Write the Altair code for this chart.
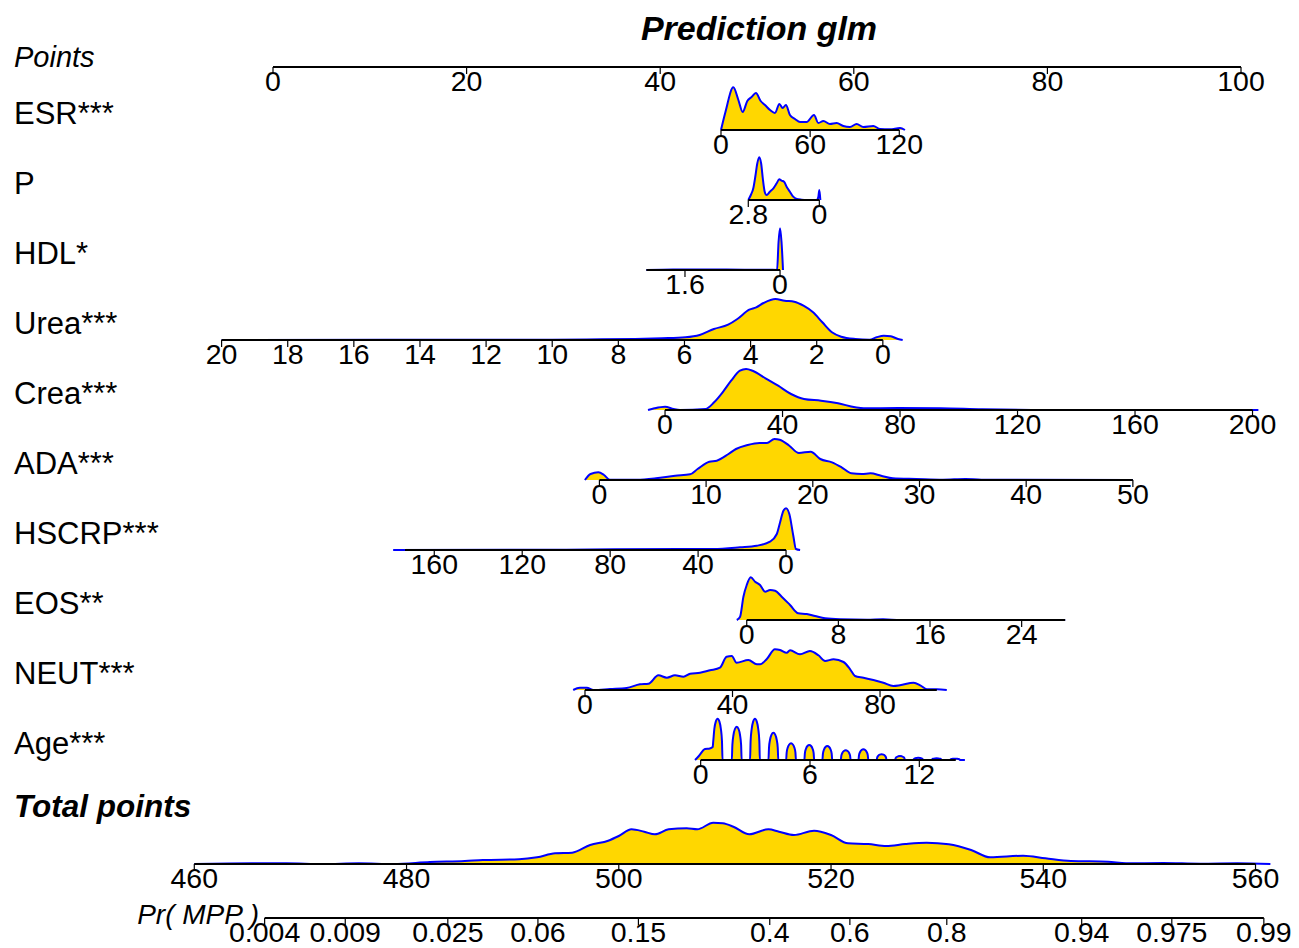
import math
import altair as alt
import pandas as pd

# ---------------- data ----------------
TITLE = "Prediction glm"
VAR_NAMES = ["ESR***", "P", "HDL*", "Urea***", "Crea***", "ADA***",
             "HSCRP***", "EOS**", "NEUT***", "Age***"]

POINT_TICKS = [0, 20, 40, 60, 80, 100]

# tick labels of each variable axis
ESR_TICKS = [0, 60, 120]
P_TICKS = [2.8, 0]
HDL_TICKS = [1.6, 0]
UREA_TICKS = [20, 18, 16, 14, 12, 10, 8, 6, 4, 2, 0]
CREA_TICKS = [0, 40, 80, 120, 160, 200]
ADA_TICKS = [0, 10, 20, 30, 40, 50]
HSCRP_TICKS = [160, 120, 80, 40, 0]
EOS_TICKS = [0, 8, 16, 24]
NEUT_TICKS = [0, 40, 80]
AGE_TICKS = [0, 6, 12]
TOTAL_TICKS = [460, 480, 500, 520, 540, 560]
PR_TICKS = ["0.004", "0.009", "0.025", "0.06", "0.15", "0.4", "0.6", "0.8", "0.94", "0.975", "0.99"]

# value -> points mapping of each axis (value a, points a, value b, points b)
ESR_MAP = (0, 46.28, 120, 64.70)
P_MAP = (2.8, 49.10, 0, 56.44)
HDL_MAP = (1.6, 42.56, 0, 52.38)
UREA_MAP = (20, -5.31, 0, 63.00)
CREA_MAP = (0, 40.50, 200, 101.19)
ADA_MAP = (0, 33.72, 50, 88.83)
HSCRP_MAP = (160, 16.66, 0, 53.00)
EOS_MAP = (0, 48.94, 24, 77.34)
NEUT_MAP = (0, 32.23, 80, 62.71)
AGE_MAP = (0, 44.18, 12, 66.77)
TOTAL_MAP = (460, -8.13, 560, 101.50)

# extent of each axis line (values)
ESR_RANGE = (0, 120)
P_RANGE = (2.8, 0)
HDL_RANGE = (2.25, 0)
UREA_RANGE = (20, 0)
CREA_RANGE = (0, 200)
ADA_RANGE = (0, 50)
HSCRP_RANGE = (173.3, 0)
EOS_RANGE = (0, 27.8)
NEUT_RANGE = (0, 95.4)
AGE_RANGE = (0, 14)
TOTAL_RANGE = (460, 560)

# logistic model: total points -> Pr(MPP)
PR_T50 = 518.0
PR_SLOPE = 0.1074

# density curves (value, relative height)
ESR_V = [0, 3, 8.3, 11.7, 14.6, 17.7, 20.6, 23.5, 26.7, 29.6, 33, 36.3, 39.3, 41.5, 43.7, 46.4, 49.8,
         53.2, 57.6, 62.6, 65.5, 68.9, 73.3, 77.8, 82.3, 86.8, 91.3, 95.8, 102.5, 107, 113.7, 120.5, 123.8]
ESR_H = [0, 18, 42.7, 30, 18, 29, 33, 37, 29, 25, 20, 17, 26, 22, 25, 15, 11,
         8, 8, 15, 7, 9, 6, 7, 4, 3, 6, 3, 4, 1, 0.7, 2, 0]

P_V = [2.8, 2.7, 2.6, 2.52, 2.45, 2.37, 2.29, 2.23, 2.15, 2.08, 1.95, 1.81, 1.68, 1.58, 1.49, 1.39, 1.29,
       1.16, 1.03, 0.89, 0.70, 0.5, 0.1, 0.04, 0, -0.04]
P_H = [0, 5, 12, 24, 36, 42.7, 36, 22, 8, 5, 8.3, 11.7, 16.7, 20.7, 19.3, 18.3, 13.3,
       8.3, 3.3, 1, 0.3, 0, 0, 3, 10, 0]

HDL_V = [2.25, 1.8, 1.2, 0.6, 0.2, 0.05, 0.025, 0.0, -0.025, -0.05]
HDL_H = [0, 0.5, 0.5, 0.3, 0.3, 0, 28, 41.7, 28, 0]

UREA_V = [20, 15, 10, 8.5, 7.5, 6.68, 5.97, 5.54, 5.11, 4.68, 4.40, 4.04, 3.83, 3.61, 3.25, 2.97,
          2.68, 2.40, 2.11, 1.83, 1.54, 1.26, 0.83, 0.40, 0.19, -0.03, -0.24, -0.46, -0.6]
UREA_H = [0, 0.3, 0.3, 0.7, 1, 1.7, 2.7, 5, 11, 15.3, 21, 30.3, 32.7, 37, 41, 39.3,
          38.3, 34.3, 27.7, 17.7, 7.7, 3.3, 1, 0.3, 2.7, 4.3, 3.7, 1, 0]

CREA_V = [-5.8, -3.6, 0, 2.9, 5.1, 13.8, 16.7, 19.6, 22.5, 25.5, 27.6, 29.8, 34.2, 38.5, 42.9,
          47.3, 53.1, 58.9, 64.7, 67.6, 79.3, 93.8, 108, 130, 202]
CREA_H = [0, 1.7, 3.3, 1, 0, 1, 7.7, 17.7, 29.3, 39.3, 41, 39.3, 31.7, 24.3, 16,
          11, 9.3, 6.7, 2.7, 1.7, 2, 1.7, 0.7, 0, 0]

ADA_V = [-1.36, -0.83, -0.1, 0.43, 0.97, 3.5, 5.3, 7.1, 8.5, 9.2, 10.3, 11.0, 12.1, 12.8, 13.9,
         15.0, 15.7, 16.4, 16.9, 17.8, 18.7, 19.8, 20.7, 21.8, 22.7, 23.6, 24.6, 25.4, 26.4, 27.5,
         29.7, 32.2, 34.3, 35.8, 50]
ADA_H = [0, 6, 7.7, 5, 0.3, 0.3, 1.7, 4.3, 5.7, 11, 18.3, 19.3, 26, 31, 35,
         37, 37, 41, 40.3, 34.3, 27, 28.3, 21, 17.7, 12.7, 6.7, 6, 6.7, 4.3, 1.7,
         1, 0.3, 1, 0.3, 0]

HSCRP_V = [178.7, 100, 48.2, 33, 20.9, 13.3, 7.3, 4.2, 2.7, 1.2, 0, -1.5, -3.3, -4.5, -6.4]
HSCRP_H = [0, 0.3, 1, 1, 2.7, 4.3, 8.3, 16, 27.7, 39.3, 41.7, 36, 14.3, 1, 0]

EOS_V = [-0.87, -0.58, -0.29, 0, 0.35, 0.73, 1.16, 1.6, 2.04, 2.47, 3.05, 3.78, 4.5, 5.24, 5.96,
         6.84, 8.15, 10.5, 11.9, 13.4, 27.8]
EOS_H = [0, 3.3, 23.3, 35, 42.7, 38.3, 35, 28.3, 30, 29.3, 23.3, 15, 6.7, 6, 4,
         1.7, 0.7, 0.3, 0.7, 0, 0]

NEUT_V = [-3.2, -1.4, 0.5, 2.3, 6.8, 11.3, 14.9, 17.2, 19.9, 22.2, 24.4, 26.7, 28.5, 31.2, 33.9,
          36.6, 38.4, 39.8, 41.1, 44.3, 46.6, 47.5, 49.3, 51.5, 52.9, 54.7, 55.6, 58.3, 61.0, 63.3,
          65.1, 67.4, 70.1, 71.9, 73.2, 75.5, 78.2, 80.9, 83.6, 85.4, 89.1, 90.9, 92.7, 95.4, 98.1]
NEUT_H = [0, 2.3, 2.3, 0, 1, 2, 5.7, 6.3, 14.7, 12.3, 14.7, 13.3, 16.3, 17.3, 19.7,
          22.3, 33.3, 34, 27.3, 30, 25.7, 25.7, 31, 40.7, 40, 37.3, 39.7, 35.7, 39, 34.7,
          29, 30.7, 28, 20.7, 14, 12.3, 10, 7.3, 4, 4.7, 7.3, 4.7, 0.7, 0.7, 0]

AGE_V = [-0.31, -0.1, 0.24, 0.5, 0.66, 0.69, 0.75, 0.83, 0.93, 1.03, 1.11, 1.17, 1.20,
         1.71, 1.74, 1.80, 1.88, 1.98, 2.08, 2.16, 2.22, 2.25,
         2.71, 2.74, 2.80, 2.88, 2.98, 3.08, 3.16, 3.22, 3.25,
         3.72, 3.75, 3.81, 3.89, 3.99, 4.09, 4.17, 4.23, 4.26,
         4.69, 4.72, 4.78, 4.86, 4.96, 5.06, 5.14, 5.20, 5.23,
         5.69, 5.72, 5.78, 5.86, 5.96, 6.06, 6.14, 6.20, 6.23,
         6.68, 6.71, 6.77, 6.85, 6.95, 7.05, 7.13, 7.19, 7.22,
         7.69, 7.72, 7.78, 7.86, 7.96, 8.06, 8.14, 8.20, 8.23,
         8.66, 8.69, 8.75, 8.83, 8.93, 9.03, 9.11, 9.17, 9.20,
         9.66, 9.69, 9.75, 9.83, 9.93, 10.03, 10.11, 10.17, 10.20,
         10.67, 10.70, 10.76, 10.84, 10.94, 11.04, 11.12, 11.18, 11.21,
         11.67, 11.70, 11.76, 11.84, 11.94, 12.04, 12.12, 12.18, 12.21,
         12.68, 12.71, 12.77, 12.85, 12.95, 13.05, 13.13, 13.19, 13.22,
         13.69, 13.72, 13.78, 13.86, 13.96, 14.06, 14.14, 14.20, 14.23, 14.5]
AGE_H = [0, 4, 11, 11.5, 13, 18.6, 31, 38.4, 41.3, 38.4, 31, 18.6, 0,
         0, 15, 25, 31, 33.3, 31, 25, 15, 0,
         0, 18.6, 31, 38.4, 41.3, 38.4, 31, 18.6, 0,
         0, 12.3, 20.5, 25.4, 27.3, 25.4, 20.5, 12.3, 0,
         0, 7.5, 12.5, 15.5, 16.7, 15.5, 12.5, 7.5, 0,
         0, 6.8, 11.3, 14, 15, 14, 11.3, 6.8, 0,
         0, 6.3, 10.5, 13, 14, 13, 10.5, 6.3, 0,
         0, 4.4, 7.3, 9, 9.7, 9, 7.3, 4.4, 0,
         0, 4.8, 8, 10, 10.7, 10, 8, 4.8, 0,
         0, 2.6, 4.3, 5.3, 5.7, 5.3, 4.3, 2.6, 0,
         0, 1.8, 3, 3.7, 4, 3.7, 3, 1.8, 0,
         0, 1, 1.7, 2.1, 2.3, 2.1, 1.7, 1, 0,
         0, 0.8, 1.3, 1.6, 1.7, 1.6, 1.3, 0.8, 0,
         0, 0.6, 1, 1.2, 1.3, 1.2, 1, 0.6, 0, 0]

TOTAL_V = [460, 465.4, 468.7, 472.1, 475.5, 478.8, 482.2, 485.5, 487.2, 490.6, 492.3, 494.0, 495.6,
           497.3, 499.0, 500.0, 501.2, 502.4, 503.4, 504.7, 506.4, 507.4, 508.9, 509.8, 510.8, 512.3,
           514.1, 515.1, 516.5, 518.4, 520.0, 521.6, 523.5, 525.2, 527.0, 529.0, 531.1, 533.2, 535.0,
           538.1, 540.2, 542.6, 546.1, 547.8, 551.3, 554.8, 558.3, 561.4]
TOTAL_H = [0, 0.7, 0.7, 0, 0.7, 0, 2, 3, 4, 4.7, 6.7, 10.7, 11.3,
           19, 23.3, 28, 34.7, 32.3, 29.7, 34.7, 35.7, 34.7, 41.3, 40.7, 37.3, 29.7,
           34.7, 32.3, 29, 33.3, 29, 20.7, 20, 18, 20, 21.3, 19.7, 14, 6.7,
           8.3, 5.7, 3, 2.3, 0.7, 1, 0.3, 0.7, 0]

# ---------------- layout (pixels) ----------------
W, H = 1299, 948
PX_AT_0, PX_AT_100 = 273, 1241          # where points 0 and 100 sit
ROW_BASE = {"Points": 67, "ESR***": 130, "P": 200, "HDL*": 270, "Urea***": 340, "Crea***": 410,
            "ADA***": 480, "HSCRP***": 550, "EOS**": 620, "NEUT***": 690, "Age***": 760,
            "Total points": 864, "Pr( MPP )": 918}
LABEL_Y = {"Points": 58, "Total points": 808}
LABEL_OFFSET = -15
TICK_LEN = 7
FONT = "Liberation Sans"
GOLD = "#FFD700"
BLUE = "#0000FF"

rows = [
    ("ESR***", ESR_TICKS, ESR_MAP, ESR_RANGE, ESR_V, ESR_H),
    ("P", P_TICKS, P_MAP, P_RANGE, P_V, P_H),
    ("HDL*", HDL_TICKS, HDL_MAP, HDL_RANGE, HDL_V, HDL_H),
    ("Urea***", UREA_TICKS, UREA_MAP, UREA_RANGE, UREA_V, UREA_H),
    ("Crea***", CREA_TICKS, CREA_MAP, CREA_RANGE, CREA_V, CREA_H),
    ("ADA***", ADA_TICKS, ADA_MAP, ADA_RANGE, ADA_V, ADA_H),
    ("HSCRP***", HSCRP_TICKS, HSCRP_MAP, HSCRP_RANGE, HSCRP_V, HSCRP_H),
    ("EOS**", EOS_TICKS, EOS_MAP, EOS_RANGE, EOS_V, EOS_H),
    ("NEUT***", NEUT_TICKS, NEUT_MAP, NEUT_RANGE, NEUT_V, NEUT_H),
    ("Age***", AGE_TICKS, AGE_MAP, AGE_RANGE, AGE_V, AGE_H),
    ("Total points", TOTAL_TICKS, TOTAL_MAP, TOTAL_RANGE, TOTAL_V, TOTAL_H),
]


def to_points(v, m):
    v0, p0, v1, p1 = m
    return p0 + (v - v0) * (p1 - p0) / (v1 - v0)


dens, axes, ticks, labels = [], [], [], []
for name, tks, mp, rng, dv, dh in rows:
    base = ROW_BASE[name]
    for v, h in zip(dv, dh):
        dens.append({"var": name, "x": to_points(v, mp), "top": base - h, "base": base})
    axes.append({"var": name, "x": to_points(rng[0], mp), "x2": to_points(rng[1], mp), "y": base})
    for t in tks:
        ticks.append({"var": name, "x": to_points(t, mp), "y": base, "y2": base + TICK_LEN,
                      "ylab": base + 1, "label": f"{t:g}"})

# Points axis
pb = ROW_BASE["Points"]
axes.append({"var": "Points", "x": POINT_TICKS[0], "x2": POINT_TICKS[-1], "y": pb})
for t in POINT_TICKS:
    ticks.append({"var": "Points", "x": t, "y": pb, "y2": pb + TICK_LEN, "ylab": pb + 1, "label": f"{t:g}"})

# Pr axis via logistic model
prb = ROW_BASE["Pr( MPP )"]
pr_x = []
for s in PR_TICKS:
    p = float(s)
    tot = PR_T50 + math.log(p / (1 - p)) / PR_SLOPE
    xx = to_points(tot, TOTAL_MAP)
    pr_x.append(xx)
    ticks.append({"var": "Pr", "x": xx, "y": prb, "y2": prb + TICK_LEN, "ylab": prb + 1, "label": s})
axes.append({"var": "Pr", "x": pr_x[0], "x2": pr_x[-1], "y": prb})

for name in VAR_NAMES:
    labels.append({"text": name, "y": ROW_BASE[name] + LABEL_OFFSET})

dens_df = pd.DataFrame(dens)
axes_df = pd.DataFrame(axes)
ticks_df = pd.DataFrame(ticks)
labels_df = pd.DataFrame(labels)

k = (PX_AT_100 - PX_AT_0) / 100.0
xs = alt.Scale(domain=[-PX_AT_0 / k, (W - PX_AT_0) / k], nice=False, zero=False)
ys = alt.Scale(domain=[0, H], reverse=True, nice=False, zero=False)

X = lambda f: alt.X(f"{f}:Q", scale=xs, axis=None)
Y = lambda f: alt.Y(f"{f}:Q", scale=ys, axis=None)

area = alt.Chart(dens_df).mark_area(interpolate="monotone", color=GOLD).encode(
    x=X("x"), y=Y("top"), y2="base:Q", detail="var:N")
outline = alt.Chart(dens_df).mark_line(interpolate="monotone", color=BLUE, strokeWidth=2).encode(
    x=X("x"), y=Y("top"), detail="var:N")
axis_lines = alt.Chart(axes_df).mark_rule(color="black", strokeWidth=2).encode(
    x=X("x"), x2="x2:Q", y=Y("y"))
tick_marks = alt.Chart(ticks_df).mark_rule(color="black", strokeWidth=1.2).encode(
    x=X("x"), y=Y("y"), y2="y2:Q")
tick_text = alt.Chart(ticks_df).mark_text(align="center", baseline="top", fontSize=28.5, font=FONT,
                                          color="black").encode(
    x=X("x"), y=Y("ylab"), text="label:N")
row_text = alt.Chart(labels_df).mark_text(align="left", baseline="middle", fontSize=31, font=FONT,
                                          color="black").encode(
    x=alt.value(14), y=Y("y"), text="text:N")

points_text = alt.Chart(pd.DataFrame([{"text": "Points", "y": LABEL_Y["Points"]}])).mark_text(
    align="left", baseline="middle", fontSize=29, font=FONT, fontStyle="italic").encode(
    x=alt.value(14), y=Y("y"), text="text:N")
total_text = alt.Chart(pd.DataFrame([{"text": "Total points", "y": LABEL_Y["Total points"]}])).mark_text(
    align="left", baseline="middle", fontSize=31.5, font=FONT, fontStyle="italic", fontWeight="bold").encode(
    x=alt.value(14), y=Y("y"), text="text:N")
pr_text = alt.Chart(pd.DataFrame([{"text": "Pr( MPP )", "y": ROW_BASE["Pr( MPP )"] - 2}])).mark_text(
    align="right", baseline="middle", fontSize=28, font=FONT, fontStyle="italic").encode(
    x=alt.value(259), y=Y("y"), text="text:N")
title_text = alt.Chart(pd.DataFrame([{"text": TITLE, "y": 30}])).mark_text(
    align="center", baseline="middle", fontSize=34, font=FONT, fontStyle="italic", fontWeight="bold").encode(
    x=alt.value(759), y=Y("y"), text="text:N")

chart = alt.layer(area, outline, axis_lines, tick_marks, tick_text, row_text, points_text,
                  total_text, pr_text, title_text).properties(
    width=W, height=H, autosize=alt.AutoSizeParams(type="none"), padding=0,
    background="white").configure_view(stroke=None)

chart.save("out.html", embed_options={"renderer": "svg", "actions": False})
